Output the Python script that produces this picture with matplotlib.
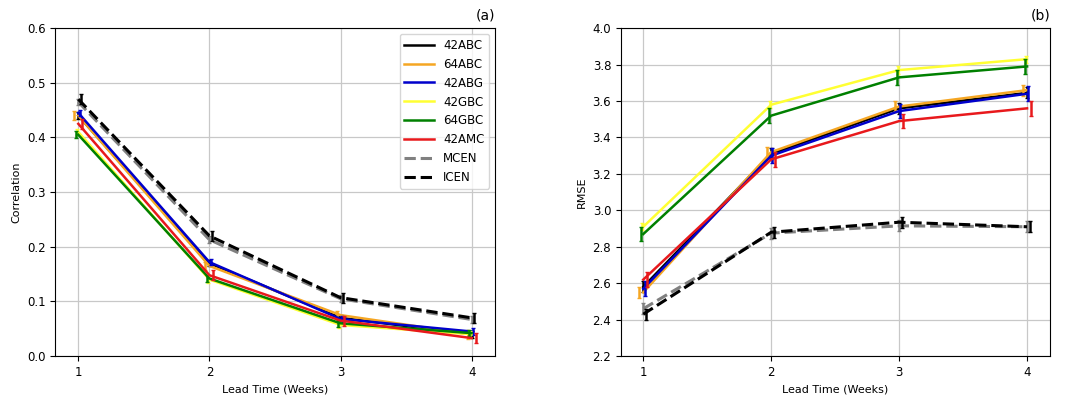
import matplotlib.pyplot as plt
import numpy as np

weeks = np.array([1, 2, 3, 4])
labels = ['42ABC', '64ABC', '42ABG', '42GBC', '64GBC', '42AMC', 'MCEN', 'ICEN']
colors = ['black', '#f5a623', '#0000cc', '#ffff33', 'green', '#e8191c', 'gray', 'black']
styles = ['-', '-', '-', '-', '-', '-', '--', '--']

corr = [[0.440, 0.170, 0.070, 0.040],
        [0.440, 0.165, 0.075, 0.040],
        [0.445, 0.172, 0.068, 0.045],
        [0.410, 0.140, 0.057, 0.040],
        [0.405, 0.142, 0.060, 0.042],
        [0.425, 0.148, 0.065, 0.033],
        [0.465, 0.213, 0.105, 0.067],
        [0.470, 0.220, 0.107, 0.070]]
corr_err = [0.006, 0.008, 0.006, 0.006, 0.006, 0.009, 0.006, 0.009]

rmse = [[2.58, 3.31, 3.56, 3.645],
        [2.55, 3.32, 3.57, 3.660],
        [2.57, 3.30, 3.545, 3.640],
        [2.91, 3.58, 3.77, 3.830],
        [2.87, 3.52, 3.73, 3.790],
        [2.62, 3.28, 3.49, 3.560],
        [2.46, 2.875, 2.915, 2.910],
        [2.43, 2.880, 2.935, 2.910]]
rmse_err = [0.03, 0.03, 0.04, 0.02, 0.04, 0.04, 0.03, 0.03]

offsets = [0.0, -0.03, 0.01, -0.01, -0.02, 0.03, 0.0, 0.02]

fig = plt.figure(figsize=(10.65, 3.97), dpi=100)
ax1 = fig.add_axes([0.052, 0.103, 0.413, 0.826])
ax2 = fig.add_axes([0.583, 0.103, 0.403, 0.826])

for i in range(len(labels)):
    lw = 2.2 if styles[i] == '--' else 1.8
    ax1.plot(weeks, corr[i], color=colors[i], linestyle=styles[i], linewidth=lw, label=labels[i])
    ax1.errorbar(weeks + offsets[i], corr[i], yerr=corr_err[i], fmt='none', ecolor=colors[i],
                 elinewidth=1.8, capsize=1.5)
    ax2.plot(weeks, rmse[i], color=colors[i], linestyle=styles[i], linewidth=lw, label=labels[i])
    ax2.errorbar(weeks + offsets[i], rmse[i], yerr=rmse_err[i], fmt='none', ecolor=colors[i],
                 elinewidth=1.8, capsize=1.5)

ax1.set_ylim(0.0, 0.6)
ax1.set_yticks(np.arange(0, 0.61, 0.1))
ax1.set_ylabel('Correlation', fontsize=8)
ax1.legend(loc='upper right', fontsize=8.5, handlelength=2.5)
ax1.set_title('(a)', loc='right', fontsize=10)

ax2.set_ylim(2.2, 4.0)
ax2.set_yticks(np.arange(2.2, 4.01, 0.2))
ax2.set_ylabel('RMSE', fontsize=8)
ax2.set_title('(b)', loc='right', fontsize=10)

for ax in (ax1, ax2):
    ax.set_xlim(0.825, 4.18)
    ax.set_xticks(weeks)
    ax.set_xlabel('Lead Time (Weeks)', fontsize=8)
    ax.tick_params(labelsize=8.5)
    ax.grid(True, color='#c8c8c8', linewidth=0.9)
    ax.set_axisbelow(True)

fig.savefig('out.png', dpi=100)
